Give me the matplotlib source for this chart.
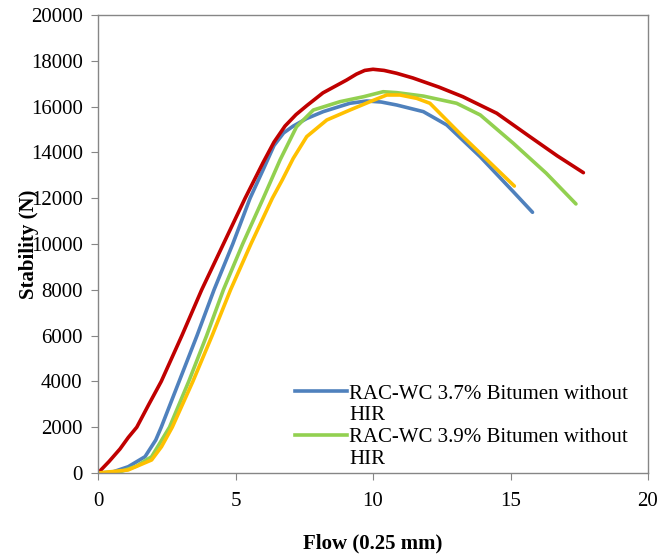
import matplotlib
matplotlib.use("Agg")
import matplotlib.pyplot as plt
from matplotlib.lines import Line2D

# (flow in 0.25 mm, stability in N)
blue_x = [0, 0.5, 1.1, 1.71, 2.1, 2.3, 2.95, 3.6, 4.22, 4.9, 5.53, 6.0, 6.4, 6.75, 7.1,
          7.59, 8.19, 9.16, 9.77, 10.3, 10.86, 11.83, 12.68, 13.9, 15.1, 15.8]
blue_y = [0, 30, 275, 712, 1440, 2000, 4000, 6000, 8000, 10000, 12000, 13230, 14300, 14850, 15150,
          15480, 15780, 16145, 16245, 16200, 16070, 15780, 15200, 13810, 12285, 11385]

green_x = [0, 0.8, 1.4, 1.95, 2.6, 3.3, 3.95, 4.56, 5.26, 6.01, 6.62, 7.22, 7.83,
           8.8, 9.65, 10.37, 10.86, 11.83, 13.04, 13.9, 15.1, 16.3, 17.38]
green_y = [0, 50, 300, 712, 2000, 4000, 6000, 8000, 10000, 12000, 13670, 15120, 15850,
           16215, 16430, 16650, 16610, 16460, 16145, 15635, 14400, 13090, 11750]

red_x = [0, 0.4, 0.8, 1.1, 1.41, 1.85, 2.3, 3.05, 3.77, 4.56, 5.35, 6.0, 6.4, 6.8, 7.2,
         7.6, 8.18, 9.04, 9.4, 9.7, 10.0, 10.4, 10.86, 11.45, 12.4, 13.27, 14.5, 15.7, 16.7, 17.65]
red_y = [0, 500, 1050, 1550, 2000, 3000, 4000, 6000, 8000, 10000, 12000, 13550, 14450, 15150, 15650,
         16050, 16600, 17160, 17420, 17580, 17630, 17580, 17455, 17250, 16850, 16430, 15710,
         14690, 13850, 13115]

yellow_x = [0, 1.09, 1.95, 2.31, 2.7, 3.45, 4.15, 4.82, 5.56, 6.34, 6.7, 7.1, 7.59,
            8.32, 9.16, 9.89, 10.5, 10.98, 11.59, 12.07, 13.27, 15.14]
yellow_y = [0, 130, 570, 1150, 2000, 4000, 6000, 8000, 10000, 12000, 12795, 13740, 14690,
            15415, 15850, 16215, 16507, 16507, 16360, 16145, 14690, 12530]

legend_labels = ["RAC-WC 3.7% Bitumen without", "HIR",
                 "RAC-WC 3.9% Bitumen without", "HIR"]

plt.rcParams['font.family'] = ['Liberation Serif', 'DejaVu Serif']
fs = 15

fig = plt.figure(figsize=(6.71, 5.56), dpi=100)
ax = fig.add_axes([98 / 671, 83 / 556, 550 / 671, 458 / 556])

lw = 2.6
ax.plot(blue_x, blue_y, color='#4F81BD', lw=lw, solid_capstyle='round', solid_joinstyle='round')
ax.plot(green_x, green_y, color='#92D050', lw=lw, solid_capstyle='round', solid_joinstyle='round')
ax.plot(red_x, red_y, color='#C00000', lw=lw, solid_capstyle='round', solid_joinstyle='round')
ax.plot(yellow_x, yellow_y, color='#FFC000', lw=lw, solid_capstyle='round', solid_joinstyle='round')

ax.set_xlim(0, 20)
ax.set_ylim(0, 20000)
ax.set_xticks([0, 5, 10, 15, 20])
ax.set_yticks(range(0, 20001, 2000))
ax.tick_params(direction='out', length=5, color='#868686', labelsize=fs, pad=6)
ax.tick_params(axis='x', pad=9)
for s in ax.spines.values():
    s.set_color('#868686')
    s.set_linewidth(1)

ax.set_xlabel('Flow (0.25 mm)', fontsize=fs, fontweight='bold')
ax.xaxis.set_label_coords(0.5, -0.133)
ax.set_ylabel('Stability (N)', fontsize=fs, fontweight='bold')
ax.yaxis.set_label_coords(-0.108, 0.5)

# legend: handle sits on the first line of each wrapped label
handles = [Line2D([], [], color='#4F81BD', lw=lw),
           Line2D([], [], color='none'),
           Line2D([], [], color='#92D050', lw=lw),
           Line2D([], [], color='none')]
leg = ax.legend(handles, legend_labels, loc='upper left',
                bbox_to_anchor=(295 / 671, 1 - 384 / 556), bbox_transform=fig.transFigure,
                frameon=False, fontsize=fs, handlelength=2.5, handletextpad=0.1,
                labelspacing=0.1, borderpad=0, borderaxespad=0)

fig.savefig('out.png', dpi=100)
